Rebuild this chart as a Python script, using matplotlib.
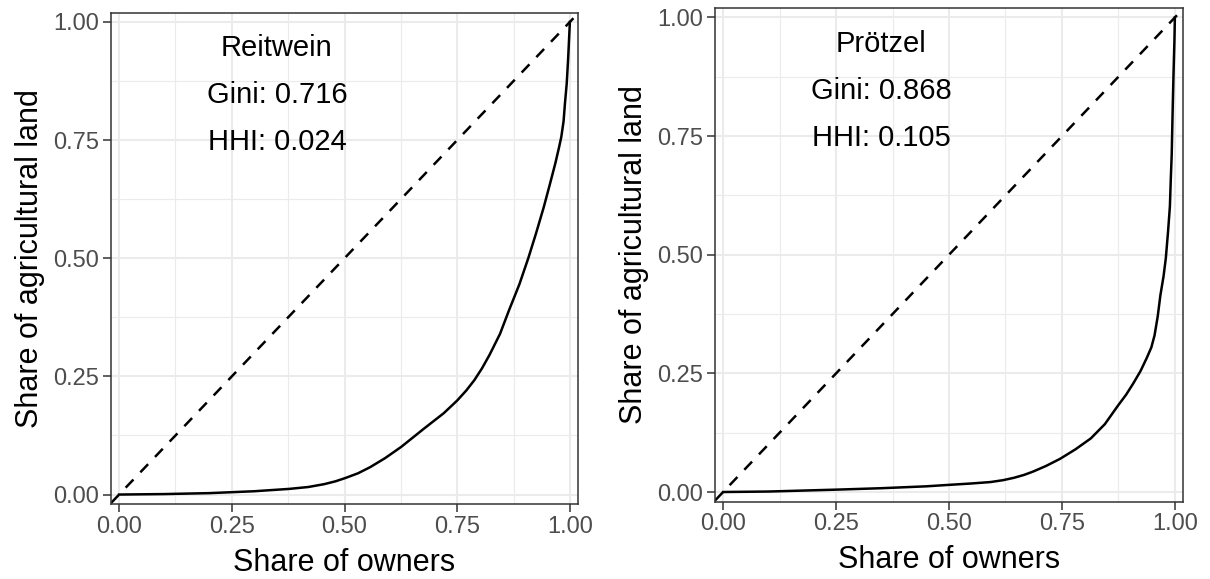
import numpy as np
import matplotlib.pyplot as plt
from matplotlib.ticker import MultipleLocator

plt.rcParams['font.family'] = ['Liberation Sans', 'DejaVu Sans']

# Lorenz curves
reitwein_x = [0.0, 0.1, 0.2, 0.25, 0.3, 0.378, 0.42, 0.455, 0.48, 0.502, 0.53,
              0.557, 0.59, 0.626, 0.677, 0.72, 0.75, 0.77, 0.788, 0.805, 0.822,
              0.845, 0.865, 0.888, 0.908, 0.925, 0.942, 0.956, 0.968, 0.976,
              0.981, 0.986, 0.989, 0.993, 0.996, 0.998, 1.0]
reitwein_y = [0.0, 0.001, 0.003, 0.005, 0.007, 0.012, 0.016, 0.022, 0.028, 0.035,
              0.045, 0.058, 0.077, 0.101, 0.14, 0.172, 0.199, 0.22, 0.242, 0.267,
              0.296, 0.34, 0.39, 0.445, 0.501, 0.553, 0.608, 0.658, 0.702, 0.735,
              0.757, 0.79, 0.827, 0.87, 0.92, 0.96, 1.0]

proetzel_x = [0.0, 0.1, 0.251, 0.35, 0.45, 0.499, 0.55, 0.592, 0.62, 0.644, 0.666,
              0.686, 0.715, 0.746, 0.78, 0.814, 0.845, 0.874, 0.892, 0.908, 0.924,
              0.938, 0.948, 0.955, 0.962, 0.968, 0.975, 0.98, 0.985, 0.989, 0.991,
              0.993, 0.995, 0.997, 0.999, 1.0]
proetzel_y = [0.0, 0.001, 0.005, 0.008, 0.012, 0.015, 0.018, 0.021, 0.025, 0.03,
              0.036, 0.043, 0.055, 0.07, 0.09, 0.113, 0.143, 0.182, 0.205, 0.229,
              0.255, 0.283, 0.305, 0.33, 0.37, 0.415, 0.455, 0.493, 0.55, 0.602,
              0.66, 0.711, 0.8, 0.881, 0.95, 1.0]

panels = [
    ('Reitwein', '0.716', '0.024', reitwein_x, reitwein_y),
    ('Prötzel', '0.868', '0.105', proetzel_x, proetzel_y),
]

ticks = [0.0, 0.25, 0.5, 0.75, 1.0]
tick_labels = ['0.00', '0.25', '0.50', '0.75', '1.00']

fig = plt.figure(figsize=(12.1, 5.79), dpi=100)
boxes = [[111, 12.5, 578, 504], [715, 8, 1183, 501.5]]  # px: left, top, right, bottom

for (name, gini, hhi, xs, ys), (l, t, r, b) in zip(panels, boxes):
    ax = fig.add_axes([l / 1210, 1 - b / 579, (r - l) / 1210, (b - t) / 579])
    ax.set_xlim(-0.018, 1.018)
    ax.set_ylim(-0.02, 1.02)
    ax.xaxis.set_minor_locator(MultipleLocator(0.125))
    ax.yaxis.set_minor_locator(MultipleLocator(0.125))
    ax.set_xticks(ticks, tick_labels)
    ax.set_yticks(ticks, tick_labels)
    ax.grid(which='major', color='#ebebeb', lw=1.5)
    ax.grid(which='minor', color='#ebebeb', lw=0.8)
    ax.set_axisbelow(True)
    ax.tick_params(which='minor', length=0)
    ax.tick_params(which='major', length=5.5, width=1.1, color='#333333',
                   labelsize=17, labelcolor='#4d4d4d', pad=3)
    for s in ax.spines.values():
        s.set_color('#333333')
        s.set_linewidth(1.1)

    ax.axline((0, 0), (1, 1), color='black', lw=1.8, ls=(0, (4.5, 4)))
    ax.plot(xs, ys, color='black', lw=1.8)

    ax.text(0.35, 0.945, name, ha='center', va='center', fontsize=21)
    ax.text(0.35, 0.845, 'Gini: ' + gini, ha='center', va='center', fontsize=21)
    ax.text(0.35, 0.745, 'HHI: ' + hhi, ha='center', va='center', fontsize=21)

    ax.set_xlabel('Share of owners', fontsize=22, labelpad=7)
    ax.set_ylabel('Share of agricultural land', fontsize=22, labelpad=6)

fig.savefig('out.png', dpi=100)
